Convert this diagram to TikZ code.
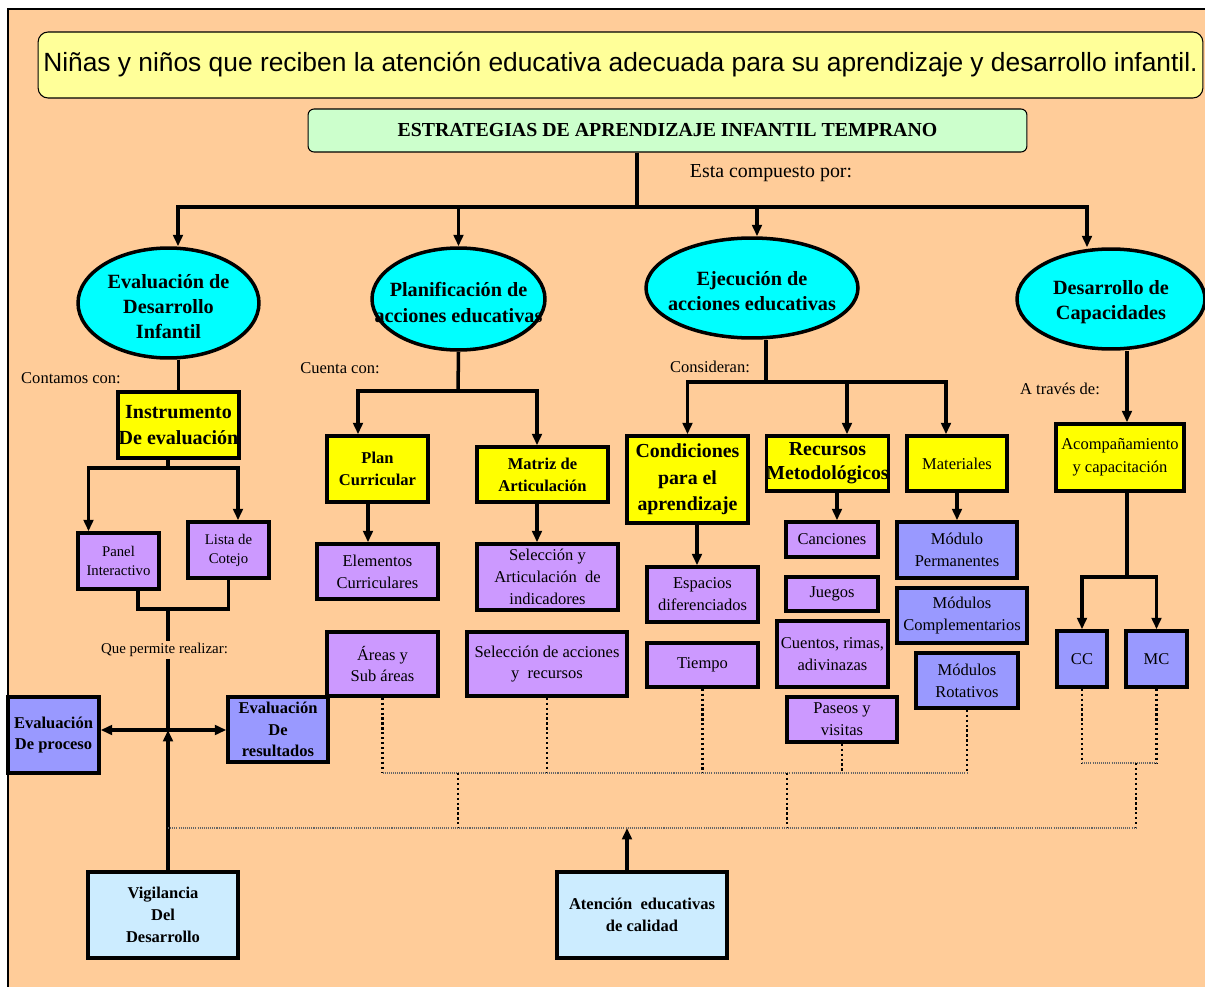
\documentclass[tikz,border=0pt]{standalone}
\usepackage{fontspec}
\setmainfont{Liberation Serif}
\newfontfamily\arialfont{Liberation Sans}
\usepackage{tikz}
\usetikzlibrary{shapes.geometric, arrows.meta, positioning}

\definecolor{fondo}{HTML}{FFCC99}
\definecolor{amarilloclaro}{HTML}{FFFF99}
\definecolor{verdeclaro}{HTML}{CCFFCC}
\definecolor{cian}{HTML}{00FFFF}
\definecolor{amarillo}{HTML}{FFFF00}
\definecolor{lavanda}{HTML}{CC99FF}
\definecolor{azulado}{HTML}{9999FF}
\definecolor{celeste}{HTML}{CCECFF}

\tikzset{
  linea/.style={line width=2pt},
  flecha/.style={linea, -{Triangle[length=6.5pt,width=5.5pt]}},
  doble/.style={linea, {Triangle[length=6.5pt,width=5.5pt]}-{Triangle[length=6.5pt,width=5.5pt]}},
  puntos/.style={line width=1.4pt, dash pattern=on 1.3pt off 1.5pt},
  puntosfino/.style={line width=0.6pt, dash pattern=on 0.6pt off 0.6pt, black!60},
  caja/.style={draw, line width=2pt, inner sep=0pt, align=center, font=\fontsize{9.4}{12.4}\selectfont},
  cajanegrita/.style={caja, font=\fontsize{9.4}{12.4}\selectfont\bfseries},
  cajagrande/.style={caja, fill=amarillo, font=\fontsize{11.3}{14.5}\selectfont\bfseries},
  elipse/.style={ellipse, draw, line width=2pt, fill=cian, inner sep=0pt},
  txtelip/.style={align=center, yshift=-0.07cm, font=\fontsize{11.5}{14.3}\selectfont\bfseries},
  texto/.style={inner sep=1pt, font=\fontsize{9.4}{11}\selectfont}
}

\begin{document}
\begin{tikzpicture}[x=0.02cm, y=-0.02cm]
\useasboundingbox (0,0) rectangle (1205,987);

% Fondo y marco
\fill[white] (0,0) rectangle (1205,987);
\fill[fondo] (8,9) rectangle (1205,987);
\draw[line width=1.2pt] (8,987) -- (8,9) -- (1205,9);

% Objetivo y titulo
\node[draw, line width=0.6pt, rounded corners=0.2cm, fill=amarilloclaro, inner sep=0.5pt, minimum width=23.3cm, minimum height=1.32cm, font=\arialfont\fontsize{15}{17}\selectfont] (meta) at (620.5,65) {Niñas y niños que reciben la atención educativa adecuada para su aprendizaje y desarrollo infantil.};
\node[draw, line width=0.6pt, rounded corners=0.12cm, fill=verdeclaro, minimum width=14.38cm, minimum height=0.86cm, font=\fontsize{11.3}{13}\selectfont\bfseries] (titulo) at (667.5,130.5) {ESTRATEGIAS DE APRENDIZAJE INFANTIL TEMPRANO};
\node[font=\fontsize{11.3}{13}\selectfont] (compuesto) at (771,173) {Esta compuesto por:};

% Componentes
\node[elipse, minimum width=3.62cm, minimum height=2.2cm, label={[txtelip]center:{Evaluación de\\Desarrollo\\Infantil}}] (elip1) at (168.5,303) {};
\node[elipse, minimum width=3.46cm, minimum height=2.04cm, label={[txtelip]center:{Planificación de\\acciones educativas}}] (elip2) at (458.5,299) {};
\node[elipse, minimum width=4.24cm, minimum height=2.0cm, label={[txtelip]center:{Ejecución de\\acciones educativas}}] (elip3) at (752,288) {};
\node[elipse, minimum width=3.76cm, minimum height=2.0cm, label={[txtelip]center:{Desarrollo de\\Capacidades}}] (elip4) at (1111,299) {};

\coordinate (tronco) at (637,207);
\draw[linea] (titulo.south -| tronco) -- (tronco);
\draw[linea] ([xshift=0.19cm]elip1.north |- tronco) -- ([xshift=-0.48cm]elip4.north |- tronco);
\draw[flecha] (tronco) -| ([xshift=0.19cm]elip1.north);
\draw[flecha] (tronco) -| (elip2.north);
\draw[flecha] (tronco) -| ([xshift=0.1cm]elip3.north);
\draw[flecha] (tronco) -| ([xshift=-0.48cm]elip4.north);

% Evaluacion de desarrollo infantil
\node[texto] (contamos) at (71,378) {Contamos con:};
\node[cajagrande, font=\fontsize{11.4}{14.5}\selectfont\bfseries, minimum width=2.42cm, minimum height=1.32cm] (inst) at (178.5,425) {Instrumento\\De evaluación};
\node[caja, fill=lavanda, font=\fontsize{8.4}{10.8}\selectfont, minimum width=1.62cm, minimum height=1.12cm] (panel) at (118.5,561) {Panel\\Interactivo};
\node[caja, fill=lavanda, font=\fontsize{8.4}{10.8}\selectfont, minimum width=1.62cm, minimum height=1.12cm] (lista) at (228.5,550) {Lista de\\Cotejo};
\node[texto, font=\fontsize{8.5}{10}\selectfont] (permite) at (164.5,650) {Que permite realizar:};
\node[cajanegrita, fill=azulado, minimum width=1.82cm, minimum height=1.52cm] (proceso) at (53.5,735) {Evaluación\\De proceso};
\node[cajanegrita, fill=azulado, minimum width=2.0cm, minimum height=1.3cm] (resultados) at (278,729.5) {Evaluación\\De\\resultados};
\node[cajanegrita, fill=celeste, minimum width=3.0cm, minimum height=1.72cm] (vigil) at (163,915) {Vigilancia\\Del\\Desarrollo};

\coordinate (ramaA) at (168,468);
\coordinate (une) at (168,609);
\coordinate (cruce) at (168,730);
\draw[linea] (inst.north |- elip1.south) -- (inst.north);
\draw[linea] (inst.south -| ramaA) -- (ramaA);
\draw[flecha] (ramaA) -| ([xshift=-0.6cm]panel.north);
\draw[flecha] (ramaA) -| ([xshift=0.19cm]lista.north);
\draw[linea] ([xshift=0.39cm]panel.south) |- (une) -| (lista.south);
\draw[linea] (une) -- (une |- permite.north);
\draw[linea] (permite.south -| cruce) -- (cruce);
\draw[doble] (proceso.east |- cruce) -- (resultados.west |- cruce);
\draw[flecha] (vigil.north -| cruce) -- (cruce);

% Planificacion de acciones educativas
\node[texto] (cuenta) at (340,368) {Cuenta con:};
\node[cajanegrita, fill=amarillo, minimum width=2.02cm, minimum height=1.32cm] (plan) at (377.5,469) {Plan\\Curricular};
\node[cajanegrita, fill=amarillo, minimum width=2.62cm, minimum height=1.1cm] (matriz) at (542.5,474.5) {Matriz de\\Articulación};
\node[caja, fill=lavanda, minimum width=2.42cm, minimum height=1.1cm] (elem) at (377.5,571.5) {Elementos\\Curriculares};
\node[caja, fill=lavanda, minimum width=2.82cm, minimum height=1.32cm] (selind) at (547.5,577) {Selección y\\Articulación~ de\\indicadores};
\node[caja, fill=lavanda, minimum width=2.22cm, minimum height=1.28cm] (areas) at (382.5,664) {Áreas y\\Sub áreas};
\node[caja, fill=lavanda, minimum width=3.2cm, minimum height=1.28cm] (selacc) at (547,664) {Selección de acciones\\y~ recursos};

\coordinate (ramaB) at (458,391);
\draw[linea] (elip2.south) -- (ramaB);
\draw[flecha] (ramaB) -| ([xshift=-0.39cm]plan.north);
\draw[flecha] (ramaB) -| ([xshift=-0.11cm]matriz.north);
\draw[flecha] ([xshift=-0.19cm]plan.south) -- ([xshift=-0.19cm]plan.south |- elem.north);
\draw[flecha] ([xshift=-0.11cm]matriz.south) -- ([xshift=-0.11cm]matriz.south |- selind.north);

% Ejecucion de acciones educativas
\node[texto] (consid) at (710,367) {Consideran:};
\node[cajagrande, font=\fontsize{11.3}{15}\selectfont\bfseries, minimum width=2.42cm, minimum height=1.74cm] (cond) at (687.5,479.5) {Condiciones\\para el\\aprendizaje};
\node[cajagrande, font=\fontsize{11.3}{13.6}\selectfont\bfseries, minimum width=2.42cm, minimum height=1.1cm] (recur) at (827.5,463.5) {Recursos\\Metodológicos};
\node[caja, fill=amarillo, minimum width=2.0cm, minimum height=1.1cm] (mater) at (957,463.5) {Materiales};
\node[caja, fill=lavanda, minimum width=2.22cm, minimum height=1.1cm] (espac) at (702.5,594.5) {Espacios\\diferenciados};
\node[caja, fill=lavanda, minimum width=2.22cm, minimum height=0.88cm] (tiempo) at (702.5,665) {Tiempo};
\node[caja, fill=lavanda, minimum width=1.84cm, minimum height=0.7cm] (canc) at (832,539.5) {Canciones};
\node[caja, fill=lavanda, minimum width=1.84cm, minimum height=0.68cm] (juegos) at (832,594) {Juegos};
\node[caja, fill=lavanda, minimum width=2.22cm, minimum height=1.32cm] (cuentos) at (832.5,654) {Cuentos, rimas,\\adivinazas};
\node[caja, fill=lavanda, minimum width=2.2cm, minimum height=0.9cm] (paseos) at (842,719.5) {Paseos y\\visitas};
\node[caja, fill=azulado, minimum width=2.4cm, minimum height=1.12cm] (modper) at (957,550) {Módulo\\Permanentes};
\node[caja, fill=azulado, minimum width=2.6cm, minimum height=1.1cm] (modcom) at (962,615.5) {Módulos\\Complementarios};
\node[caja, fill=azulado, minimum width=2.04cm, minimum height=1.1cm] (modrot) at (967,680.5) {Módulos\\Rotativos};

\coordinate (ramaC) at (766,382);
\draw[linea] (elip3.south -| ramaC) -- (ramaC);
\draw[flecha] (ramaC) -| (cond.north);
\draw[flecha] (ramaC) -| ([xshift=0.39cm]recur.north);
\draw[flecha] (ramaC) -| ([xshift=-0.22cm]mater.north);
\draw[flecha] ([xshift=0.19cm]cond.south) -- ([xshift=0.19cm]cond.south |- espac.north);
\draw[flecha] ([xshift=0.19cm]recur.south) -- ([xshift=0.19cm]recur.south |- canc.north);
\draw[flecha] (mater.south) -- (modper.north);

% Desarrollo de capacidades
\node[texto] (atraves) at (1060,389) {A través de:};
\node[caja, fill=amarillo, font=\fontsize{9.4}{13}\selectfont, minimum width=2.56cm, minimum height=1.34cm] (acomp) at (1120,457.5) {Acompañamiento\\y capacitación};
\node[caja, fill=azulado, minimum width=1.0cm, minimum height=1.12cm] (cc) at (1082,659) {CC};
\node[caja, fill=azulado, minimum width=1.22cm, minimum height=1.12cm] (mc) at (1156.5,659) {MC};

\coordinate (ramaD) at (1127,577);
\draw[flecha] ([xshift=0.32cm]elip4.south) -- ([xshift=0.32cm]elip4.south |- acomp.north);
\draw[linea] (acomp.south -| ramaD) -- (ramaD);
\draw[flecha] (ramaD) -| (cc.north);
\draw[flecha] (ramaD) -| (mc.north);

% Atencion educativa de calidad
\node[cajanegrita, fill=celeste, minimum width=3.4cm, minimum height=1.72cm] (atencion) at (642,915) {Atención~ educativas\\de calidad};

% Lineas punteadas
\coordinate (pie) at (967,773);
\coordinate (base) at (1136,828);
\coordinate (bajaA) at (458,828);
\coordinate (bajaB) at (787,828);
\coordinate (pieCap) at (1136,763);
\coordinate (llegada) at (627,828);
\draw[puntos] (areas.south) -- (areas.south |- pie);
\draw[puntos] (selacc.south) -- (selacc.south |- pie);
\draw[puntos] (tiempo.south) -- (tiempo.south |- pie);
\draw[puntos] (paseos.south) -- (paseos.south |- pie);
\draw[puntos] (modrot.south) -- (pie);
\draw[puntosfino] (areas.south |- pie) -- (pie);
\draw[puntos] (bajaA |- pie) -- (bajaA);
\draw[puntos] (bajaB |- pie) -- (bajaB);
\draw[puntos] (cc.south) -- (cc.south |- pieCap);
\draw[puntos] (mc.south) -- (mc.south |- pieCap);
\draw[puntosfino] (cc.south |- pieCap) -- (mc.south |- pieCap);
\draw[puntos] (pieCap) -- (base);
\draw[puntosfino] (cruce |- base) -- (base);
\draw[flecha] (atencion.north -| llegada) -- (llegada);

\end{tikzpicture}
\end{document}
